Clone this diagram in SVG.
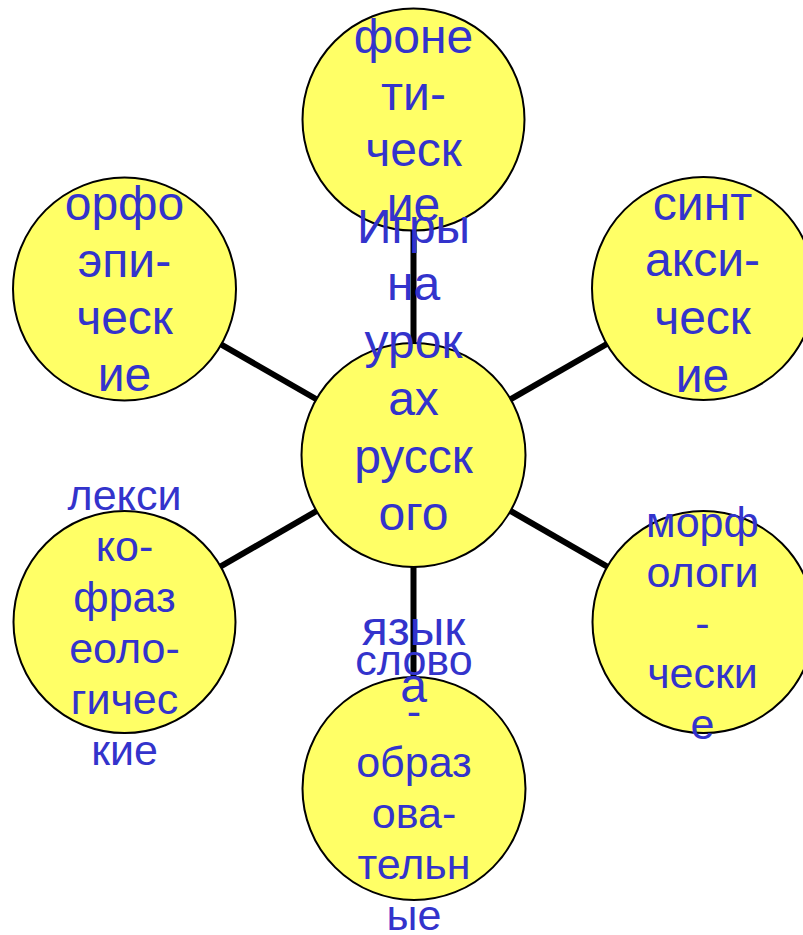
<svg xmlns="http://www.w3.org/2000/svg" width="803" height="935" viewBox="0 0 803 935">
<style>
.c{fill:#FFFF66;stroke:#000;stroke-width:2}
.l{stroke:#000;stroke-width:6;fill:none}
.t{font-family:"Liberation Sans",Arial,sans-serif;font-size:48px;fill:#3333CC;text-anchor:middle}
.s{font-size:43px}
</style>
<rect width="803" height="935" fill="#fff"/>
<g id="connectors">
<line class="l" x1="413.5" y1="455" x2="413.5" y2="119.5"/>
<line class="l" x1="413.5" y1="455" x2="413.5" y2="788.5"/>
<line class="l" x1="413.5" y1="455" x2="124.5" y2="289"/>
<line class="l" x1="413.5" y1="455" x2="124.5" y2="622"/>
<line class="l" x1="413.5" y1="455" x2="703.5" y2="288.5"/>
<line class="l" x1="413.5" y1="455" x2="703.5" y2="622"/>
</g>
<g id="node-top"><circle class="c" cx="413.5" cy="119.5" r="111"/></g>
<g id="node-topleft"><circle class="c" cx="124.5" cy="289" r="111.5"/></g>
<g id="node-topright"><circle class="c" cx="703.5" cy="288.5" r="111.5"/></g>
<g id="node-center"><circle class="c" cx="413.5" cy="455" r="112"/></g>
<g id="node-bottomleft"><circle class="c" cx="124.5" cy="622" r="111"/></g>
<g id="node-bottomright"><circle class="c" cx="703.5" cy="622" r="111"/></g>
<g id="node-bottom"><circle class="c" cx="414" cy="788.5" r="111.5"/></g>
<g id="labels">
<text class="t" x="413.5"><tspan x="413.5" y="53">фоне</tspan><tspan x="413.5" y="110">ти-</tspan><tspan x="413.5" y="166">ческ</tspan><tspan x="413.5" y="221">ие</tspan></text>
<text class="t" x="124.5"><tspan x="124.5" y="220">орфо</tspan><tspan x="124.5" y="277">эпи-</tspan><tspan x="124.5" y="334">ческ</tspan><tspan x="124.5" y="391">ие</tspan></text>
<text class="t" x="702.5"><tspan x="702.5" y="220">синт</tspan><tspan x="702.5" y="276">акси-</tspan><tspan x="702.5" y="334">ческ</tspan><tspan x="702.5" y="392">ие</tspan></text>
<text class="t s" x="124.5"><tspan x="124.5" y="510">лекси</tspan><tspan x="124.5" y="561">ко-</tspan><tspan x="124.5" y="612">фраз</tspan><tspan x="124.5" y="663">еоло-</tspan><tspan x="124.5" y="714">гичес</tspan><tspan x="124.5" y="765">кие</tspan></text>
<text class="t s" x="702.5"><tspan x="702.5" y="537">морф</tspan><tspan x="702.5" y="587">ологи</tspan><tspan x="702.5" y="638">-</tspan><tspan x="702.5" y="688">чески</tspan><tspan x="702.5" y="739">е</tspan></text>
<text class="t s" x="414"><tspan x="414" y="675">слово</tspan><tspan x="414" y="726">-</tspan><tspan x="414" y="777">образ</tspan><tspan x="414" y="828">ова-</tspan><tspan x="414" y="879">тельн</tspan><tspan x="414" y="930">ые</tspan></text>
<text class="t" x="413.5"><tspan x="413.5" y="243">Игры</tspan><tspan x="413.5" y="300">на</tspan><tspan x="413.5" y="358">урок</tspan><tspan x="413.5" y="415">ах</tspan><tspan x="413.5" y="473">русск</tspan><tspan x="413.5" y="530">ого</tspan><tspan x="413.5" y="645">язык</tspan><tspan x="413.5" y="702">а</tspan></text>
</g>
</svg>
